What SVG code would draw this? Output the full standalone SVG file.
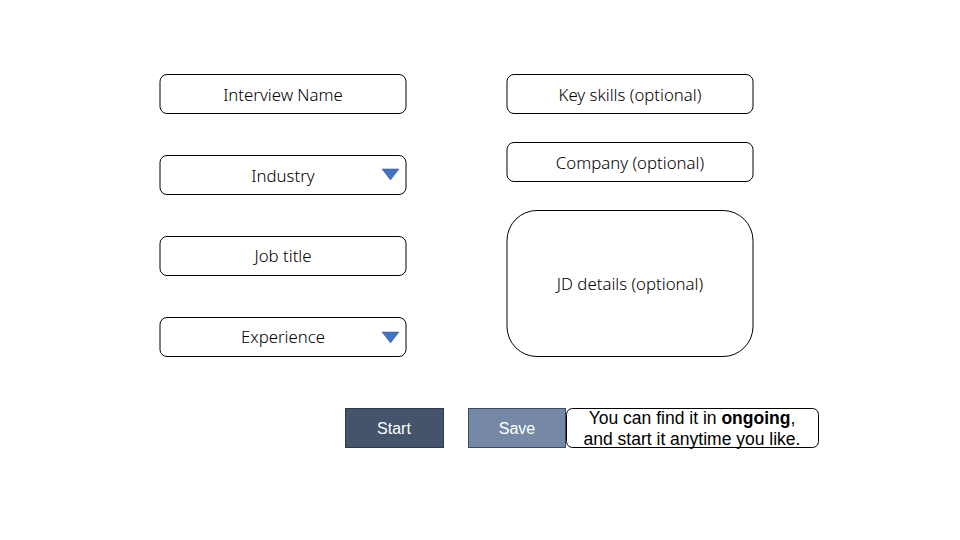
<svg xmlns="http://www.w3.org/2000/svg" width="960" height="540" viewBox="0 0 960 540">
<style>
.box{fill:#fff;stroke:#000;stroke-width:1}
.t{font-family:"Noto Sans","Open Sans",sans-serif;font-size:16.8px;font-weight:300;fill:#000;text-anchor:middle;dominant-baseline:central}
.tri{fill:#4472C4;stroke:#2F528F;stroke-width:0.5}
.bt{font-family:"Liberation Sans",Arial,sans-serif;font-size:16px;fill:#fff;text-anchor:middle;dominant-baseline:central}
.tip{font-family:"Liberation Sans",Arial,sans-serif;font-size:17.5px;fill:#000;text-anchor:middle}
</style>
<rect width="960" height="540" fill="#fff"/>
<g id="interview-name"><rect class="box" x="160" y="74.5" width="246" height="39" rx="7"/><text class="t" x="283" y="94">Interview Name</text></g>
<g id="industry"><rect class="box" x="160" y="155.5" width="246" height="39" rx="7"/><text class="t" x="283" y="175">Industry</text><polygon class="tri" points="382,169 399,169 390.5,180"/></g>
<g id="job-title"><rect class="box" x="160" y="236.5" width="246" height="39" rx="7"/><text class="t" x="283" y="255">Job title</text></g>
<g id="experience"><rect class="box" x="160" y="317.5" width="246" height="39" rx="7"/><text class="t" x="283" y="336">Experience</text><polygon class="tri" points="382,332 399,332 390.5,343"/></g>
<g id="key-skills"><rect class="box" x="507" y="74.5" width="246" height="39" rx="7"/><text class="t" x="630" y="94">Key skills (optional)</text></g>
<g id="company"><rect class="box" x="507" y="142.5" width="246" height="39" rx="7"/><text class="t" x="630" y="162">Company (optional)</text></g>
<g id="jd-details"><rect class="box" x="507" y="210.5" width="246" height="146" rx="30"/><text class="t" x="630" y="283">JD details (optional)</text></g>
<g id="start"><rect x="345.5" y="408.5" width="98" height="39" fill="#44546A" stroke="#2F3B4C"/><text class="bt" x="394" y="428">Start</text></g>
<g id="save"><rect x="468.5" y="408.5" width="97" height="39" fill="#7588A5" stroke="#3C4A60"/><text class="bt" x="517" y="428">Save</text></g>
<g id="tip"><rect class="box" x="566.5" y="408.5" width="252" height="39" rx="6"/><text class="tip" x="692" y="424">You can find it in <tspan font-weight="bold">ongoing</tspan>,</text><text class="tip" x="692" y="445">and start it anytime you like.</text></g>
<g id="connectors"></g>
</svg>
